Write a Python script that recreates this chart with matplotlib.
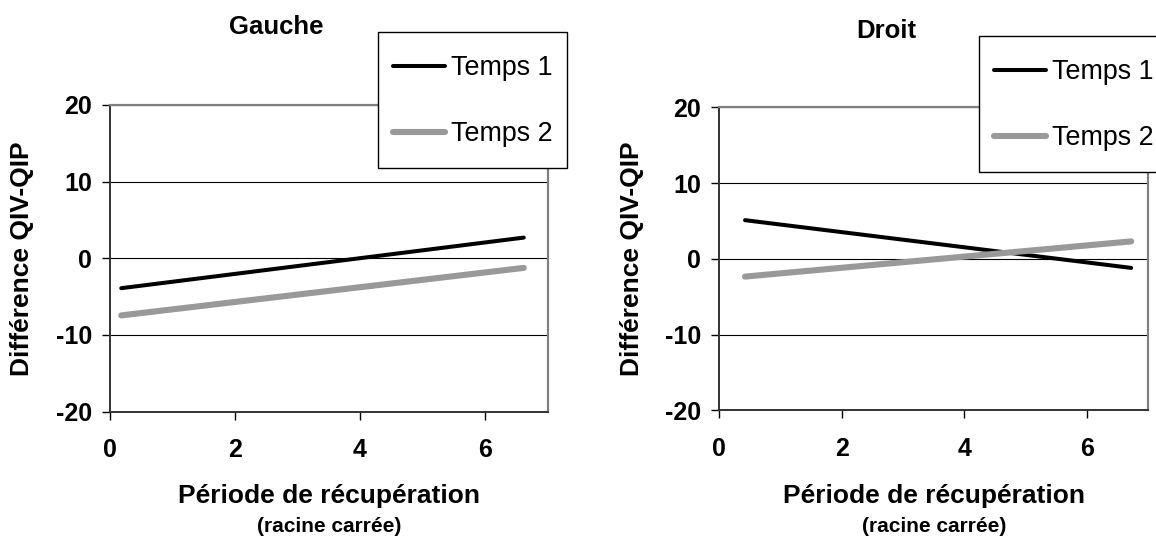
import matplotlib
matplotlib.use("Agg")
import matplotlib.pyplot as plt
from matplotlib.patches import Rectangle

# === DONNÉES ===
series_labels = ["Temps 1", "Temps 2"]

x_gauche = [0.18, 6.62]
t1_gauche = [-3.9, 2.7]
t2_gauche = [-7.45, -1.25]

x_droit = [0.42, 6.72]
t1_droit = [5.1, -1.2]
t2_droit = [-2.35, 2.3]

y_ticks = [-20, -10, 0, 10, 20]
x_ticks = [0, 2, 4, 6]

COL_T1 = "black"
COL_T2 = "#999999"

plt.rcParams["font.family"] = ["Liberation Sans", "DejaVu Sans"]
plt.rcParams["axes.unicode_minus"] = False

W, H = 1156, 539
fig = plt.figure(figsize=(W / 100, H / 100), dpi=100)


def px(x0, y0, x1, y1):
    # rectangle en pixels -> fraction de figure
    return [x0 / W, 1 - y1 / H, (x1 - x0) / W, (y1 - y0) / H]


def panneau(rect, x, t1, t2, titre, tx, ty, ylx, leg_box):
    ax = fig.add_axes(px(*rect))
    ax.plot(x, t1, color=COL_T1, lw=2.9, solid_capstyle="round", label=series_labels[0], zorder=3)
    ax.plot(x, t2, color=COL_T2, lw=4.4, solid_capstyle="round", label=series_labels[1], zorder=3)
    ax.set_xlim(0, 7)
    ax.set_ylim(-20, 20)
    ax.set_xticks(x_ticks)
    ax.set_yticks(y_ticks)
    ax.grid(axis="y", color="black", lw=0.8)
    ax.set_axisbelow(True)
    for s in ("top", "right"):
        ax.spines[s].set_color("#808080")
        ax.spines[s].set_linewidth(1.6)
    for s in ("left", "bottom"):
        ax.spines[s].set_color("#333333")
        ax.spines[s].set_linewidth(1.4)
    ax.tick_params(axis="both", direction="out", length=6, width=1, color="black",
                   labelsize=18)
    ax.tick_params(axis="y", pad=7)
    ax.tick_params(axis="x", pad=13)
    for lab in ax.get_xticklabels() + ax.get_yticklabels():
        lab.set_fontweight("bold")

    cx = (rect[0] + rect[2]) / 2
    fig.text(tx / W, 1 - ty / H, titre, ha="center", va="center", fontsize=18.5, fontweight="bold")
    fig.text(cx / W, 1 - 496 / H, "Période de récupération", ha="center", va="center",
             fontsize=19, fontweight="bold")
    fig.text(cx / W, 1 - 527 / H, "(racine carrée)", ha="center", va="center",
             fontsize=15, fontweight="bold")
    fig.text(ylx / W, 1 - 259 / H, "Différence QIV-QIP", ha="center", va="center",
             rotation=90, fontsize=19, fontweight="bold")

    # cadre de la légende (boîte blanche, bord noir)
    bx0, by0, bx1, by1 = leg_box
    ax.add_patch(Rectangle((bx0 / W, 1 - by1 / H), (bx1 - bx0) / W, (by1 - by0) / H,
                           transform=fig.transFigure, facecolor="white", edgecolor="black",
                           lw=1.0, clip_on=False, zorder=4.9))
    ax.legend(loc="upper left", bbox_to_anchor=((bx0 + 15) / W, 1 - (by0 + 23) / H),
              bbox_transform=fig.transFigure, fontsize=19.4, frameon=False,
              borderpad=0, labelspacing=1.49, handlelength=1.92, handletextpad=0.22,
              borderaxespad=0)
    return ax


panneau((110, 105, 547.5, 411.6), x_gauche, t1_gauche, t2_gauche, "Gauche", 276, 27, 22,
        (378, 32, 567, 168))
panneau((719.3, 107.3, 1148.3, 410.3), x_droit, t1_droit, t2_droit, "Droit", 886, 31, 632,
        (979, 36, 1168, 172))

fig.savefig("out.png", dpi=100)
